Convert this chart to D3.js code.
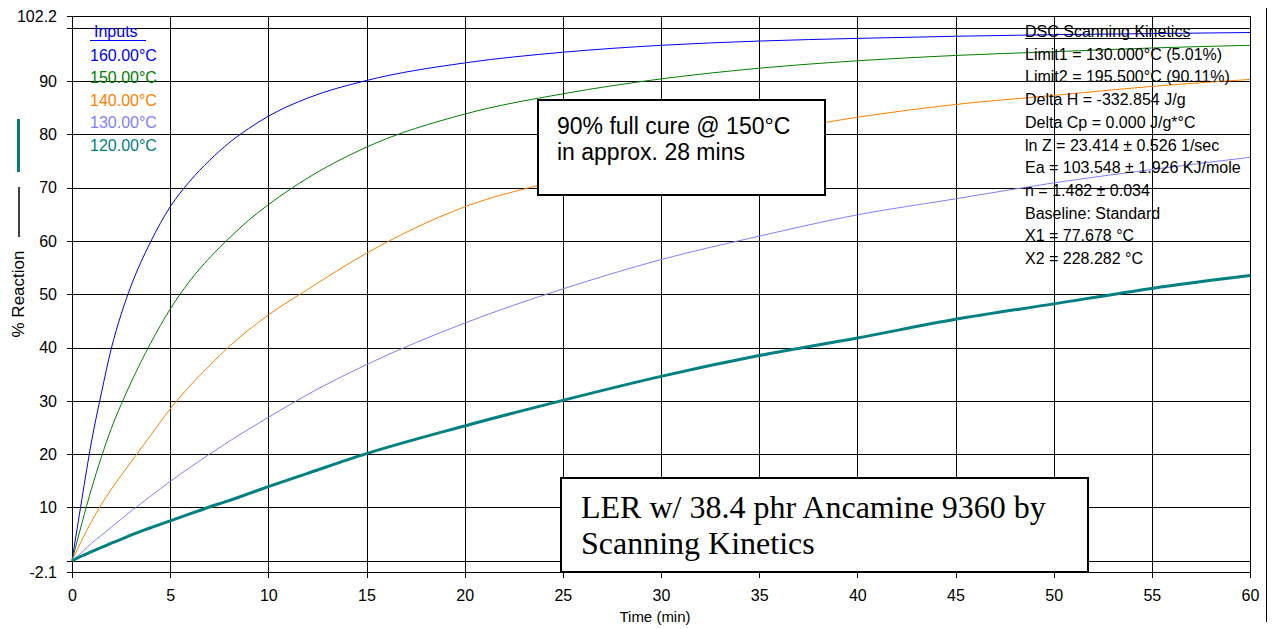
<!DOCTYPE html>
<html>
<head>
<meta charset="utf-8">
<script src="https://cdn.jsdelivr.net/npm/d3@7"></script>
<style>
  html, body { margin: 0; padding: 0; background: #fff; }
</style>
</head>
<body>
<script>
// ---------- data ----------
const times = [0, 0.5, 1, 1.5, 2, 2.5, 3, 4, 5, 6, 7, 8, 9, 10, 12, 15, 20, 25, 30, 35, 40, 45, 50, 55, 60];
const react160 = [0, 11.5, 22.5, 31.5, 39.8, 46.2, 51.5, 59.8, 66.4, 71.2, 75.1, 78.4, 81.1, 83.4, 86.8, 90.1, 93.4, 95.4, 96.7, 97.5, 98, 98.4, 98.7, 98.9, 99.1];
const react150 = [0, 7, 13.6, 19.5, 24.8, 29.3, 33.4, 40.8, 47.2, 52.5, 56.8, 60.5, 63.9, 66.8, 71.8, 77.6, 83.8, 87.6, 90.4, 92.4, 93.8, 94.8, 95.5, 96.2, 96.7];
const react140 = [0, 3.9, 7.4, 10.6, 13.4, 16, 18.5, 23.5, 28.5, 32.8, 36.6, 40.2, 43.3, 46.1, 50.9, 57.7, 66.4, 71.6, 76.3, 80, 83.2, 85.6, 87.3, 89, 90.3];
const react130 = [0, 1.6, 3.3, 4.8, 6.3, 7.8, 9.3, 12.1, 14.9, 17.5, 20, 22.4, 24.7, 26.9, 31.2, 36.8, 44.6, 51, 56.5, 60.9, 64.9, 67.9, 70.9, 73.4, 75.7];
const react120 = [0, 0.9, 1.7, 2.5, 3.3, 4, 4.8, 6.2, 7.5, 8.8, 10.1, 11.3, 12.6, 13.9, 16.4, 20.1, 25.3, 30.1, 34.6, 38.5, 41.8, 45.3, 48.2, 51.1, 53.5];

const seriesNames = ["160.00°C", "150.00°C", "140.00°C", "130.00°C", "120.00°C"];
const seriesValues = [react160, react150, react140, react130, react120];
const seriesColors = ["#0000ff", "#008000", "#ff8000", "#8080ff", "#008080"];
const seriesWidths = [1, 1, 1, 1, 3];

const xTicks = [0, 5, 10, 15, 20, 25, 30, 35, 40, 45, 50, 55, 60];
const yTicks = [-2.1, 0, 10, 20, 30, 40, 50, 60, 70, 80, 90, 100, 102.2];
const yTickLabels = ["-2.1", "", "10", "20", "30", "40", "50", "60", "70", "80", "90", "", "102.2"];

const kineticsTitle = "DSC Scanning Kinetics";
const kineticsLines = [
  "Limit1 = 130.000°C (5.01%)",
  "Limit2 = 195.500°C (90.11%)",
  "Delta H = -332.854 J/g",
  "Delta Cp = 0.000 J/g*°C",
  "ln Z = 23.414 ± 0.526 1/sec",
  "Ea = 103.548 ± 1.926 KJ/mole",
  "n = 1.482 ± 0.034",
  "Baseline: Standard",
  "X1 = 77.678 °C",
  "X2 = 228.282 °C"
];
const cureNote = ["90% full cure @ 150°C", "in approx. 28 mins"];
const sampleNote = ["LER w/ 38.4 phr Ancamine 9360 by", "Scanning Kinetics"];
const xTitle = "Time (min)";
const yTitle = "% Reaction";
const legendTitle = "Inputs";

// ---------- layout ----------
const W = 1274, H = 629;
const L = 72, R = 1250, T = 16, B = 572;
const SANS = "'Liberation Sans', Arial, sans-serif";
const SERIF = "'Liberation Serif', 'Times New Roman', serif";

const svg = d3.select("body").append("svg").attr("width", W).attr("height", H)
  .attr("font-family", SANS);
svg.append("rect").attr("width", W).attr("height", H).attr("fill", "#fff");

const x = d3.scaleLinear().domain([0, 60]).range([L, R]);
const y = d3.scaleLinear().domain([-2.1, 102.2]).range([B, T]);

// grid
const gGridY = svg.append("g").attr("transform", `translate(${L},0)`)
  .call(d3.axisLeft(y).tickValues(yTicks).tickSize(-(R - L)).tickFormat("").tickSizeOuter(0));
gGridY.select(".domain").remove();
gGridY.selectAll("line").attr("stroke", "#000").attr("shape-rendering", "crispEdges");

const gGridX = svg.append("g").attr("transform", `translate(0,${B})`)
  .call(d3.axisBottom(x).tickValues(xTicks).tickSize(-(B - T)).tickFormat("").tickSizeOuter(0));
gGridX.select(".domain").remove();
gGridX.selectAll("line").attr("stroke", "#000").attr("shape-rendering", "crispEdges");

// axes
const gY = svg.append("g").attr("transform", `translate(${L},0)`)
  .call(d3.axisLeft(y).tickValues(yTicks).tickSize(5).tickPadding(10).tickSizeOuter(0)
    .tickFormat((d, i) => yTickLabels[i]));
gY.attr("font-family", SANS);
gY.select(".domain").attr("stroke", "#000").attr("shape-rendering", "crispEdges");
gY.selectAll("line").attr("stroke", "#000").attr("shape-rendering", "crispEdges");
gY.selectAll("text").attr("font-size", 16).attr("fill", "#000");

const gX = svg.append("g").attr("transform", `translate(0,${B})`)
  .call(d3.axisBottom(x).tickValues(xTicks).tickSize(6).tickPadding(12).tickSizeOuter(0));
gX.attr("font-family", SANS);
gX.select(".domain").attr("stroke", "#000").attr("shape-rendering", "crispEdges");
gX.selectAll("line").attr("stroke", "#000").attr("shape-rendering", "crispEdges");
gX.selectAll("text").attr("font-size", 16).attr("fill", "#000");

// frame
svg.append("rect").attr("x", L).attr("y", T).attr("width", R - L).attr("height", B - T)
  .attr("fill", "none").attr("stroke", "#000").attr("shape-rendering", "crispEdges");

// right border line
svg.append("line").attr("x1", 1266.5).attr("x2", 1266.5).attr("y1", 8).attr("y2", 622)
  .attr("stroke", "#000").attr("shape-rendering", "crispEdges");

// curves
const line = d3.line().x(d => x(d[0])).y(d => y(d[1])).curve(d3.curveMonotoneX);
seriesValues.forEach((vals, i) => {
  const pts = times.map((t, j) => [t, vals[j]]);
  svg.append("path").datum(pts).attr("d", line)
    .attr("fill", "none").attr("stroke", seriesColors[i]).attr("stroke-width", seriesWidths[i]);
});

// legend
svg.append("text").attr("x", 94).attr("y", 37).attr("font-size", 16).attr("fill", "#0000ff")
  .text(legendTitle);
svg.append("line").attr("x1", 90).attr("x2", 146).attr("y1", 40.5).attr("y2", 40.5)
  .attr("stroke", "#0000ff");
seriesNames.forEach((n, i) => {
  svg.append("text").attr("x", 90).attr("y", 60.5 + i * 22.6).attr("font-size", 16)
    .attr("fill", seriesColors[i]).text(n);
});

// kinetics text
const kt = svg.append("text").attr("x", 1025).attr("y", 37).attr("font-size", 16).attr("fill", "#000")
  .text(kineticsTitle);
const ktw = kt.node().getComputedTextLength();
svg.append("line").attr("x1", 1025).attr("x2", 1025 + ktw).attr("y1", 38.5).attr("y2", 38.5).attr("stroke", "#000");
kineticsLines.forEach((s, i) => {
  svg.append("text").attr("x", 1025).attr("y", 37 + (i + 1) * 22.7).attr("font-size", 16)
    .attr("fill", "#000").text(s);
});

// cure note box
svg.append("rect").attr("x", 538).attr("y", 100).attr("width", 287).attr("height", 95)
  .attr("fill", "#fff").attr("stroke", "#000").attr("stroke-width", 2);
cureNote.forEach((s, i) => {
  svg.append("text").attr("x", 557).attr("y", 134 + i * 26).attr("font-size", 23)
    .attr("fill", "#000").text(s);
});

// sample note box
svg.append("rect").attr("x", 561).attr("y", 478).attr("width", 527).attr("height", 94)
  .attr("fill", "#fff").attr("stroke", "#000").attr("stroke-width", 2);
sampleNote.forEach((s, i) => {
  svg.append("text").attr("x", 581).attr("y", 518 + i * 36).attr("font-size", 32)
    .attr("font-family", SERIF).attr("fill", "#000").text(s);
});

// axis titles
svg.append("text").attr("x", 655).attr("y", 622).attr("text-anchor", "middle")
  .attr("font-size", 15).attr("fill", "#000").text(xTitle);

svg.append("text").attr("transform", "translate(24,294) rotate(-90)")
  .attr("text-anchor", "middle").attr("font-size", 17).attr("fill", "#000").text(yTitle);
svg.append("line").attr("x1", 19).attr("x2", 19).attr("y1", 187).attr("y2", 237)
  .attr("stroke", "#000").attr("stroke-width", 1.5);
svg.append("line").attr("x1", 18.5).attr("x2", 18.5).attr("y1", 119).attr("y2", 172)
  .attr("stroke", "#008080").attr("stroke-width", 3);
</script>
</body>
</html>
